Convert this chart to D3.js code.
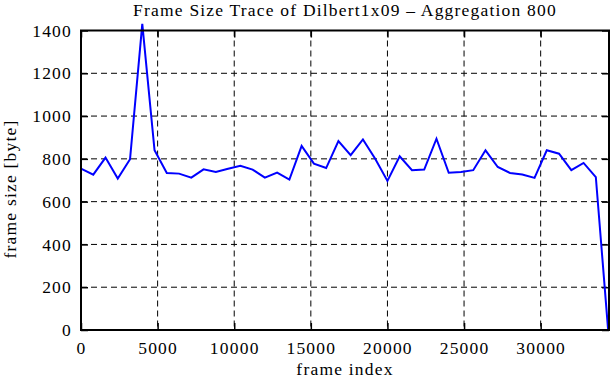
<!DOCTYPE html>
<html>
<head>
<meta charset="utf-8">
<script src="https://cdn.jsdelivr.net/npm/d3@7"></script>
<style>
  body { margin: 0; background: #fff; }
  svg text { font-family: "Liberation Serif", "DejaVu Serif", serif; fill: #000; letter-spacing: 1.2px; }
</style>
</head>
<body>
<div id="chart"></div>
<script>
// frame index of each aggregated sample (aggregation 800)
const frame_index = d3.range(0, 44).map((i) => i * 800);
const frame_size = [
  754, 726, 806, 708, 798, 1431, 840, 734, 731, 712,
  751, 739, 754, 768, 750, 712, 736, 703, 860, 778,
  757, 883, 817, 891, 801, 697, 812, 747, 750, 894,
  735, 739, 747, 840, 762, 734, 727, 711, 840, 824,
  747, 781, 715, 3
];
const x_ticks = [0, 5000, 10000, 15000, 20000, 25000, 30000];
const y_ticks = [0, 200, 400, 600, 800, 1000, 1200, 1400];

const W = 611, H = 380;
const m_left = 81, m_right = 609, m_top = 30.5, m_bottom = 330;
const tick_len = 7;
const font_size = '17.5px';

const x = d3.scaleLinear().domain([0, 34460]).range([m_left, m_right]);
const y = d3.scaleLinear().domain([0, 1400]).range([m_bottom, m_top]);

const svg = d3.select('#chart').append('svg')
  .attr('width', W)
  .attr('height', H);

// grid
const grid = svg.append('g').attr('class', 'grid');
grid.selectAll('.hgrid')
  .data(y_ticks.slice(1, -1))
  .enter()
  .append('line')
    .attr('x1', m_left)
    .attr('x2', m_right)
    .attr('y1', (d) => y(d))
    .attr('y2', (d) => y(d))
    .style('stroke', '#000')
    .style('stroke-width', 1)
    .style('stroke-dasharray', '6,4');
grid.selectAll('.vgrid')
  .data(x_ticks.slice(1))
  .enter()
  .append('line')
    .attr('x1', (d) => x(d))
    .attr('x2', (d) => x(d))
    .attr('y1', m_top)
    .attr('y2', m_bottom)
    .style('stroke', '#000')
    .style('stroke-width', 1)
    .style('stroke-dasharray', '6,4');

// inward ticks on all four sides (gnuplot style)
const x_ax = d3.axisBottom(x).tickValues(x_ticks).tickSize(-tick_len).tickPadding(11.5).tickFormat(d3.format('d'));
const x_top = d3.axisTop(x).tickValues(x_ticks).tickSize(-tick_len).tickFormat('');
const y_ax = d3.axisLeft(y).tickValues(y_ticks).tickSize(-tick_len).tickPadding(9).tickFormat(d3.format('d'));
const y_right = d3.axisRight(y).tickValues(y_ticks).tickSize(-tick_len).tickFormat('');

function style_axis(g) {
  g.select('.domain').remove();
  g.attr('font-family', null).attr('font-size', null);
  g.selectAll('.tick line').style('stroke', '#000').style('stroke-width', 1.5);
  g.selectAll('.tick text').style('font-size', font_size);
}

svg.append('g').attr('transform', 'translate(0,' + m_bottom + ')').call(x_ax).call(style_axis);
svg.append('g').attr('transform', 'translate(0,' + m_top + ')').call(x_top).call(style_axis);
svg.append('g').attr('transform', 'translate(' + m_left + ',0)').call(y_ax).call(style_axis);
svg.append('g').attr('transform', 'translate(' + m_right + ',0)').call(y_right).call(style_axis);

// data line
const line = d3.line()
  .x((d, i) => x(frame_index[i]))
  .y((d) => y(d));

svg.append('path')
  .datum(frame_size)
  .attr('d', line)
  .attr('fill', 'none')
  .style('stroke', '#0000ff')
  .style('stroke-width', 2)
  .style('stroke-linejoin', 'miter');

// frame
svg.append('rect')
  .attr('x', m_left)
  .attr('y', m_top)
  .attr('width', m_right - m_left)
  .attr('height', m_bottom - m_top)
  .attr('fill', 'none')
  .style('stroke', '#000')
  .style('stroke-width', 2);

// labels
svg.append('text')
  .attr('x', (m_left + m_right) / 2)
  .attr('y', 16)
  .attr('text-anchor', 'middle')
  .style('font-size', font_size)
  .text('Frame Size Trace of Dilbert1x09 – Aggregation 800');

svg.append('text')
  .attr('x', (m_left + m_right) / 2)
  .attr('y', 375)
  .attr('text-anchor', 'middle')
  .style('font-size', font_size)
  .text('frame index');

svg.append('text')
  .attr('transform', 'translate(16,189) rotate(-90)')
  .attr('text-anchor', 'middle')
  .style('font-size', font_size)
  .text('frame size [byte]');
</script>
</body>
</html>
